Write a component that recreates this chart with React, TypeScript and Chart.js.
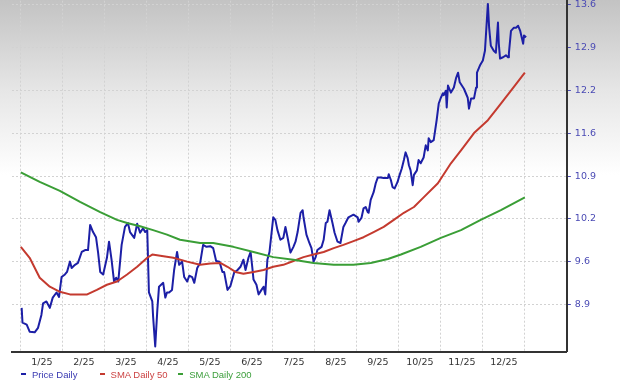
import React, { useEffect, useRef } from "react";
import { Chart, registerables } from "chart.js";

Chart.register(...registerables);

// ---- data (x in months since 1 Jan 2025) ----
const monthGrid = [0, 1, 2, 3, 4, 5, 6, 7, 8, 9, 10, 11, 12, 13];
const monthLabels = ["1/25", "2/25", "3/25", "4/25", "5/25", "6/25", "7/25", "8/25", "9/25", "10/25", "11/25", "12/25"];
const yTickValues = [8.9, 9.5667, 10.2333, 10.9, 11.5667, 12.2333, 12.9, 13.5667];
const yTickLabels = ["8.9", "9.6", "10.2", "10.9", "11.6", "12.2", "12.9", "13.6"];

const seriesNames = ["Price Daily", "SMA Daily 50", "SMA Daily 200"];
const seriesColors = ["#1c1fa6", "#c43a2f", "#3a9e36"];
const legendTextColors = ["#3a3ab2", "#cc4444", "#3c9e3c"];

const priceT = [
  0.02, 0.04, 0.14, 0.21, 0.33, 0.41, 0.49, 0.53, 0.61, 0.69, 0.76, 0.85, 0.91, 0.97, 1.05, 1.10, 1.17, 1.21, 1.29, 1.36,
  1.45, 1.53, 1.60, 1.65, 1.72, 1.79, 1.84, 1.89, 1.96, 2.05, 2.10, 2.16, 2.22, 2.27, 2.32, 2.40, 2.48, 2.55, 2.60, 2.70,
  2.77, 2.84, 2.91, 2.96, 3.01, 3.05, 3.13, 3.15, 3.20, 3.25, 3.29, 3.39, 3.44, 3.48, 3.53, 3.60, 3.65, 3.72, 3.77, 3.84,
  3.89, 3.96, 4.01, 4.08, 4.13, 4.20, 4.27, 4.34, 4.42, 4.51, 4.58, 4.65, 4.73, 4.80, 4.84, 4.92, 4.99, 5.08, 5.16, 5.23,
  5.30, 5.35, 5.42, 5.47, 5.51, 5.54, 5.61, 5.66, 5.73, 5.78, 5.82, 5.87, 5.92, 6.01, 6.06, 6.11, 6.18, 6.25, 6.30, 6.35,
  6.42, 6.49, 6.54, 6.59, 6.66, 6.71, 6.73, 6.80, 6.87, 6.92, 6.97, 7.02, 7.06, 7.16, 7.21, 7.26, 7.30, 7.35, 7.42, 7.47,
  7.54, 7.61, 7.68, 7.73, 7.80, 7.92, 8.02, 8.04, 8.11, 8.16, 8.21, 8.26, 8.28, 8.33, 8.40, 8.45, 8.50, 8.57, 8.64, 8.74,
  8.76, 8.81, 8.85, 8.90, 8.97, 9.00, 9.07, 9.12, 9.16, 9.21, 9.24, 9.28, 9.33, 9.36, 9.43, 9.47, 9.52, 9.59, 9.64, 9.69,
  9.71, 9.76, 9.83, 9.90, 9.95, 10.00, 10.05, 10.07, 10.12, 10.14, 10.17, 10.24, 10.31, 10.36, 10.41, 10.45, 10.55, 10.64, 10.67, 10.72,
  10.79, 10.84, 10.86, 10.93, 11.00, 11.05, 11.12, 11.15, 11.19, 11.26, 11.31, 11.36, 11.38, 11.41, 11.48, 11.55, 11.60, 11.62, 11.67, 11.74,
  11.79, 11.84, 11.89, 11.96, 11.98, 12.03,
];
const priceV = [
  8.85, 8.62, 8.59, 8.48, 8.47, 8.54, 8.74, 8.92, 8.95, 8.85, 9.01, 9.09, 9.02, 9.33, 9.37, 9.41, 9.57, 9.47, 9.52, 9.55,
  9.72, 9.75, 9.75, 10.14, 10.03, 9.95, 9.71, 9.41, 9.37, 9.63, 9.88, 9.60, 9.26, 9.32, 9.26, 9.83, 10.11, 10.17, 10.03, 9.94,
  10.16, 10.02, 10.09, 10.03, 10.06, 9.09, 8.95, 8.71, 8.25, 8.82, 9.18, 9.24, 9.01, 9.09, 9.09, 9.13, 9.44, 9.72, 9.52, 9.57,
  9.33, 9.26, 9.35, 9.33, 9.24, 9.47, 9.55, 9.83, 9.80, 9.81, 9.78, 9.58, 9.57, 9.41, 9.41, 9.13, 9.19, 9.40, 9.44, 9.49,
  9.60, 9.44, 9.63, 9.72, 9.49, 9.29, 9.21, 9.06, 9.13, 9.18, 9.06, 9.60, 9.72, 10.26, 10.22, 10.06, 9.91, 9.94, 10.11, 9.95,
  9.71, 9.80, 9.88, 10.03, 10.33, 10.37, 10.26, 9.99, 9.86, 9.78, 9.57, 9.64, 9.75, 9.80, 9.91, 10.17, 10.19, 10.37, 10.17, 10.02,
  9.88, 9.86, 10.11, 10.17, 10.26, 10.30, 10.26, 10.19, 10.25, 10.40, 10.42, 10.34, 10.33, 10.53, 10.65, 10.79, 10.88, 10.88, 10.87, 10.87,
  10.93, 10.84, 10.73, 10.71, 10.81, 10.88, 11.02, 11.15, 11.27, 11.18, 11.07, 10.99, 10.76, 10.92, 10.99, 11.15, 11.10, 11.19, 11.38, 11.30,
  11.49, 11.43, 11.46, 11.77, 12.03, 12.12, 12.19, 12.16, 12.23, 11.97, 12.31, 12.20, 12.28, 12.42, 12.51, 12.36, 12.26, 12.12, 11.95, 12.11,
  12.11, 12.28, 12.51, 12.62, 12.70, 12.85, 13.58, 13.21, 12.93, 12.85, 12.82, 13.29, 12.96, 12.73, 12.75, 12.78, 12.75, 12.81, 13.16, 13.21,
  13.21, 13.24, 13.16, 12.96, 13.09, 13.06,
];

const sma50T = [
  0.00, 0.21, 0.45, 0.69, 0.93, 1.17, 1.58, 1.81, 2.05, 2.29, 2.53, 2.77, 3.01, 3.13, 3.32, 3.63, 3.96, 4.27, 4.51, 4.75,
  4.92, 5.11, 5.30, 5.54, 5.78, 6.01, 6.25, 6.49, 6.73, 6.97, 7.21, 7.45, 7.68, 7.92, 8.16, 8.40, 8.64, 8.88, 9.12, 9.36,
  9.59, 9.93, 10.24, 10.48, 10.79, 11.12, 11.36, 11.67, 12.00,
];
const sma50V = [
  9.80, 9.63, 9.32, 9.18, 9.10, 9.06, 9.06, 9.13, 9.21, 9.26, 9.37, 9.49, 9.63, 9.68, 9.66, 9.63, 9.57, 9.52, 9.54, 9.55,
  9.49, 9.41, 9.38, 9.41, 9.44, 9.49, 9.52, 9.58, 9.64, 9.68, 9.72, 9.78, 9.83, 9.89, 9.95, 10.03, 10.11, 10.22, 10.33, 10.42,
  10.57, 10.79, 11.10, 11.30, 11.57, 11.77, 11.97, 12.23, 12.51,
];

const sma200T = [
  0.00, 0.45, 0.93, 1.41, 1.89, 2.29, 2.53, 2.84, 3.15, 3.48, 3.79, 4.27, 4.58, 5.06, 5.54, 6.01, 6.49, 6.97, 7.45, 7.92,
  8.33, 8.74, 9.05, 9.52, 10.00, 10.48, 10.95, 11.43, 12.00,
];
const sma200V = [
  10.96, 10.81, 10.67, 10.50, 10.34, 10.22, 10.17, 10.12, 10.06, 9.99, 9.91, 9.86, 9.86, 9.80, 9.72, 9.64, 9.60, 9.55, 9.52, 9.52,
  9.55, 9.61, 9.68, 9.80, 9.94, 10.06, 10.22, 10.37, 10.57,
];

const toXY = (t: number[], v: number[]) => t.map((x, i) => ({ x, y: v[i] }));

export default function App() {
  const canvasRef = useRef<HTMLCanvasElement | null>(null);

  useEffect(() => {
    if (!canvasRef.current) return;
    const chart = new Chart(canvasRef.current, {
      type: "line",
      data: {
        datasets: [
          { label: seriesNames[2], data: toXY(sma200T, sma200V), borderColor: seriesColors[2], borderWidth: 2 },
          { label: seriesNames[1], data: toXY(sma50T, sma50V), borderColor: seriesColors[1], borderWidth: 2 },
          { label: seriesNames[0], data: toXY(priceT, priceV), borderColor: seriesColors[0], borderWidth: 2 },
        ],
      },
      options: {
        animation: false,
        responsive: true,
        maintainAspectRatio: false,
        layout: { padding: { left: 12, right: 20, top: 0, bottom: 8 } },
        elements: {
          point: { radius: 0 },
          line: { tension: 0, borderJoinStyle: "round", fill: false },
        },
        plugins: { legend: { display: false }, tooltip: { enabled: false } },
        scales: {
          x: {
            type: "linear",
            min: -0.21,
            max: 13.0,
            afterBuildTicks: (axis: any) => {
              axis.ticks = monthGrid.map((v) => ({ value: v }));
            },
            ticks: {
              autoSkip: false,
              maxRotation: 0,
              labelOffset: 21,
              padding: 5,
              color: "#333333",
              font: { family: "DejaVu Sans", size: 9.5 },
              callback: (_v: any, i: number) => monthLabels[i] ?? "",
            },
            grid: { color: "#d2d2d2", lineWidth: 1, drawTicks: false },
            border: { display: true, color: "#333333", width: 2, dash: [2, 2] },
          },
          y: {
            type: "linear",
            position: "right",
            min: 8.17,
            max: 13.63,
            afterBuildTicks: (axis: any) => {
              axis.ticks = yTickValues.map((v) => ({ value: v }));
            },
            ticks: {
              padding: 4,
              color: "#4a4ab4",
              font: { family: "DejaVu Sans", size: 9.5 },
              callback: (_v: any, i: number) => yTickLabels[i] ?? "",
            },
            grid: {
              color: "#d2d2d2",
              lineWidth: 1,
              drawTicks: true,
              tickLength: 4,
              tickColor: "#4a4ab4",
              tickBorderDash: [],
            },
            border: { display: true, color: "#333333", width: 2, dash: [2, 2] },
          },
        },
      },
    } as any);
    return () => chart.destroy();
  }, []);

  return (
    <div
      style={{
        position: "absolute",
        left: 0,
        top: 0,
        width: 620,
        height: 381,
        background: "linear-gradient(to bottom, #c3c3c3 0px, #e6e6e6 90px, #ffffff 175px, #ffffff 381px)",
        overflow: "hidden",
      }}
    >
      <div style={{ position: "absolute", left: 0, top: -9, width: 620, height: 390 }}>
        <canvas ref={canvasRef} />
      </div>
      {seriesNames.map((name, i) => (
        <div
          key={name}
          style={{
            position: "absolute",
            left: 21 + i * 78.6,
            top: 368,
            height: 12,
            display: "flex",
            alignItems: "center",
            whiteSpace: "nowrap",
            fontFamily: "'Liberation Sans', Arial, sans-serif",
            fontSize: 9.5,
            color: legendTextColors[i],
          }}
        >
          <span style={{ display: "inline-block", width: 5, height: 2, background: seriesColors[i], marginRight: 6 }} />
          <span>{name}</span>
        </div>
      ))}
    </div>
  );
}
